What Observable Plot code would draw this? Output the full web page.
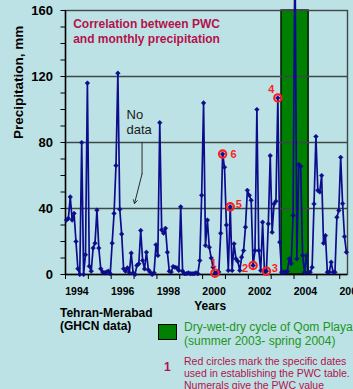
<!DOCTYPE html>
<html>
<head>
<meta charset="utf-8">
<script src="https://cdn.jsdelivr.net/npm/d3@7"></script>
<script src="https://cdn.jsdelivr.net/npm/@observablehq/plot@0.6"></script>
<style>
  html, body { margin: 0; padding: 0; background: #bde2e5; }
  #wrap { position: relative; width: 353px; height: 389px; overflow: hidden; background: #bde2e5;
          font-family: "Liberation Sans", Arial, sans-serif; }
  #wrap svg { position: absolute; left: 0; top: 0; }
  .t { position: absolute; white-space: pre; }
</style>
</head>
<body>
<div id="wrap"></div>
<script>
// Monthly precipitation (mm), Tehran-Mehrabad
const precip1994 = [33, 34, 47, 33, 37, 20, 3.5, 0, 80, 0, 12, 116];
const precip1995 = [5, 2, 16, 19, 39, 16, 3.5, 1.5, 1, 1.5, 2, 0.5];
const precip1996 = [19, 37, 66, 122, 39.5, 24.5, 3.5, 2, 4, 1, 13, 1];
const precip1997 = [0, 5.5, 6.5, 26.7, 8.5, 3.4, 13.5, 2.8, 1.4, 0, 1, 18];
const precip1998 = [11.5, 92, 27, 25, 28, 13.5, 2, 1.5, 4.8, 4.4, 4, 2.5];
const precip1999 = [41, 2, 0.5, 0.5, 1, 0.5, 0.5, 0.5, 1, 0.5, 8.5, 48];
const precip2000 = [104, 17.6, 33, 16.5, 10, 4.4, 0.8, 1, 1.5, 25, 73, 65];
const precip2001 = [30, 2.4, 41, 2.4, 18.6, 9.5, 8, 2.4, 10.5, 14.5, 28.7, 51];
const precip2002 = [48, 45, 5.5, 14.5, 100, 14.5, 2.4, 31.7, 1.4, 2, 30.7, 72];
const precip2003 = [25.6, 42.8, 44.4, 107, 19.6, 1.4, 1.4, 1.4, 2, 9.5, 6.5, 35.8];
const precip2004 = [200, 9.5, 66.7, 65.5, 11.5, 1.4, 11.5, 1.4, 1.4, 4.4, 42.8, 83.6];
const precip2005 = [51, 50, 60, 19, 23.6, 1.4, 1.4, 7.5, 1.4, 1.4, 34.7, 38.8];
const precip2006 = [71, 43, 23, 13.5];
const firstYear = 1994;

// PWC dates: [year, month (1-12)] and the PWC numeral
const pwcDates = [[2000, 7], [2002, 3], [2002, 10], [2003, 4], [2001, 3], [2000, 11]];
const pwcValues = ["1", "2", "3", "4", "5", "6"];

// Dry-wet-dry cycle of Qom Playa (fractional years)
const cycleStart = [2003.45];
const cycleEnd = [2004.64];

// Axis ticks
const yearTicks = [1994, 1995, 1996, 1997, 1998, 1999, 2000, 2001, 2002, 2003, 2004, 2005, 2006];
const yearLabels = [1994, 1996, 1998, 2000, 2002, 2004, 2006];
const yTicks = [0, 10, 20, 30, 40, 50, 60, 70, 80, 90, 100, 110, 120, 130, 140, 150, 160];
const yLabelled = [0, 40, 80, 120, 160];
const xDomain = [1994, 2006.34];
const yDomain = [0, 160];

// "No data" annotation (fractional year, mm)
const noDataText = ["No\ndata"];
const noDataAt = [1996.67, 100.5];
const noDataLine = [[1997.35, 80], [1997.35, 61]];
const noDataTip = [1997.02, 43];

// ---- build tables ----
const yearsArr = [precip1994, precip1995, precip1996, precip1997, precip1998, precip1999,
  precip2000, precip2001, precip2002, precip2003, precip2004, precip2005, precip2006];
const series = yearsArr.flatMap((arr, k) => arr.map((v, m) => ({t: firstYear + k + (m + 0.5) / 12, v, idx: k * 12 + m})));
const pwc = pwcDates.map(([yr, mo], j) => {
  const idx = (yr - firstYear) * 12 + (mo - 1);
  const d = series[idx];
  return {t: d.t, v: d.v, label: pwcValues[j]};
});
const cycle = cycleStart.map((s, j) => ({start: s, end: cycleEnd[j]}));

const navy = "#0c0c8c";
const grid = "#3d4848";
const crimson = "#b3124c";
const red = "#ff1e1e";
const labelOffsets = {"1": [-1.5, -9.5], "2": [-8, 3.5], "3": [8.5, -3], "4": [-6.5, -8], "5": [8.5, -2.7], "6": [11, 0]};

const chart = Plot.plot({
  width: 353, height: 315,
  marginLeft: 65, marginRight: 6, marginTop: 10, marginBottom: 41,
  style: {background: "transparent", fontFamily: "Liberation Sans, Arial, sans-serif", color: "#000", overflow: "visible"},
  x: {domain: xDomain},
  y: {domain: yDomain},
  marks: [
    Plot.rect(cycle, {x1: "start", x2: "end", y1: yDomain[0], y2: yDomain[1], fill: "#008000", stroke: "#000", strokeWidth: 1.3}),
    Plot.gridY([40, 80, 120], {stroke: grid, strokeOpacity: 1, strokeWidth: 1.4}),
    Plot.frame({stroke: grid, strokeWidth: 1.4}),
    Plot.ruleY([yDomain[0]], {stroke: "#000", strokeWidth: 1.4}),
    Plot.ruleX([xDomain[0]], {stroke: "#000", strokeWidth: 1.4}),
    Plot.axisY({ticks: yTicks, tickSize: 4.5, tickPadding: 8, stroke: "#000",
      tickFormat: d => yLabelled.includes(d) ? String(d) : "",
      fontSize: 13, fontWeight: "bold", label: null}),
    Plot.axisX({ticks: yearTicks, tickSize: 5, tickFormat: () => "", stroke: "#000", label: null}),
    Plot.axisX({ticks: yearLabels.map(y => y + 0.5), tickSize: 0, tickPadding: 13,
      tickFormat: d => String(Math.floor(d)), fontSize: 10.5, fontWeight: "bold", label: null}),
    Plot.text(["Precipitation, mm"], {frameAnchor: "left", rotate: -90, dx: -43, dy: -3.5, lineAnchor: "bottom",
      fontSize: 13.5, fontWeight: "bold", fill: "#000"}),
    Plot.text(["Years"], {frameAnchor: "bottom", dx: 3.7, dy: 35, lineAnchor: "bottom",
      fontSize: 12, fontWeight: "bold", fill: "#000"}),
    Plot.text(["Correlation between PWC\nand monthly precipitation"], {frameAnchor: "top-left", dx: 7.7, dy: 6.5,
      lineAnchor: "top", textAnchor: "start", lineHeight: 1.25, fontSize: 12, fontWeight: "bold", fill: crimson}),
    Plot.text(noDataText, {x: () => noDataAt[0], y: () => noDataAt[1], lineAnchor: "top", textAnchor: "start",
      lineHeight: 1.15, fontSize: 13, fill: "#1a1a1a"}),
    Plot.line(noDataLine, {x: d => d[0], y: d => d[1], stroke: "#2a2a2a", strokeWidth: 1}),
    Plot.arrow([{a: noDataLine[1], b: noDataTip}], {x1: d => d.a[0], y1: d => d.a[1], x2: d => d.b[0], y2: d => d.b[1],
      stroke: "#2a2a2a", strokeWidth: 1, headLength: 6}),
    Plot.line(series, {x: "t", y: "v", stroke: navy, strokeWidth: 1.7}),
    Plot.dot(series, {x: "t", y: "v", symbol: "diamond2", r: 2.1, fill: navy, stroke: navy, strokeWidth: 0.5}),
    Plot.dot(pwc, {x: "t", y: "v", r: 3.7, stroke: red, strokeWidth: 2.1, fill: "none"}),
    ...pwc.map(p => Plot.text([p], {x: "t", y: "v", text: "label", dx: labelOffsets[p.label][0], dy: labelOffsets[p.label][1],
      fontSize: 11, fontWeight: "bold", fill: red}))
  ]
});

const wrap = document.getElementById("wrap");
wrap.appendChild(chart);

// Captions and legend (HTML)
function addText(txt, left, baseline, size, lineH, opts = {}) {
  const d = document.createElement("div");
  d.className = "t";
  d.textContent = txt;
  d.style.left = left + "px";
  d.style.top = (baseline - lineH / 2 - 0.3465 * size) + "px";
  d.style.fontSize = size + "px";
  d.style.lineHeight = lineH + "px";
  if (opts.bold) d.style.fontWeight = "bold";
  d.style.color = opts.color || "#000";
  wrap.appendChild(d);
}
addText("Tehran-Merabad\n(GHCN data)", 60, 318, 12, 13, {bold: true});
const sq = document.createElement("div");
sq.style.cssText = "position:absolute;left:158px;top:324px;width:17px;height:14px;background:#008000;border:1px solid #000;";
wrap.appendChild(sq);
addText("Dry-wet-dry cycle of Qom Playa\n(summer 2003- spring 2004)", 184, 331.5, 12, 14, {color: "#1c961c"});
addText("1", 164, 371, 12, 14, {bold: true, color: crimson});
addText("Red circles mark the specific dates\nused in establishing the PWC table.\nNumerals give the PWC value", 184, 365, 10.5, 12, {color: crimson});
</script>
</body>
</html>
